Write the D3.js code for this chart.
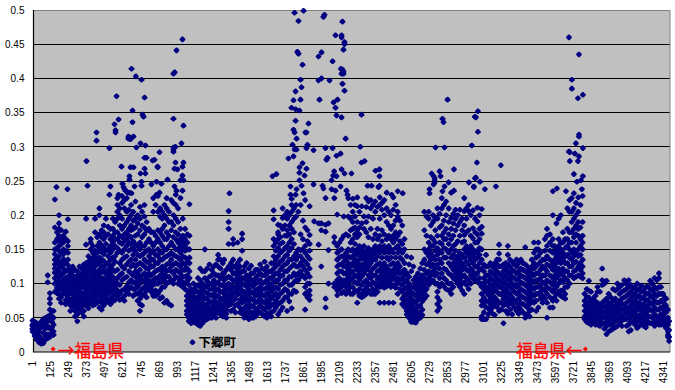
<!DOCTYPE html>
<html>
  <head>
    <meta charset="utf-8" />
    <title>福島県</title>
    <script src="https://d3js.org/d3.v7.min.js"></script>
    <style>
      body { margin: 0; background: #fff; }
      svg { display: block; font-family: "Liberation Sans", Arial, sans-serif; }
      .axis path { display: none; }
      .axis line { display: none; }
      .axis text { fill: #000; font-size: 10px; }
      .grid line { stroke: #000; stroke-width: 1; shape-rendering: crispEdges; }
    </style>
  </head>
  <body>
    <div id="chart-container"></div>
    <script>
      //value axis and category labels
      const yTicks = [0, 0.05, 0.1, 0.15, 0.2, 0.25, 0.3, 0.35, 0.4, 0.45, 0.5];
      const xLabels = [1, 125, 249, 373, 497, 621, 745, 869, 993, 1117, 1241, 1365, 1489, 1613, 1737, 1861, 1985, 2109, 2233, 2357, 2481, 2605, 2729, 2853, 2977, 3101, 3225, 3349, 3473, 3597, 3721, 3845, 3969, 4093, 4217, 4341];

      //scattered high points, [id, value x 1000]
      const highPoints = [
        [1034,457],[993,441],[972,407],[981,409],[683,414],[713,403],[752,398],[580,374],[773,372],[690,353],[759,347],[766,344],[972,341],[594,340],[566,333],[690,336],[1041,331],[442,321],[573,324],[573,321],[442,309],[662,315],[662,312],[676,311],[669,314],[697,315],[745,305],[1027,305],[531,298],[717,299],[779,302],[972,299],[986,300],[972,296],[972,293],[876,292],[373,279],[773,284],[786,284],[828,280],[841,281],[986,277],[1041,277],[1034,271],[862,271],[864,270],[614,271],[676,270],[697,270],[773,268],[979,268],[999,267],[745,261],[779,261],[1034,258],[669,257],[669,252],[752,249],[931,252],[1020,251],[1041,251],[621,246],[752,243],[820,245],[889,246],[855,249],[166,241],[242,238],[380,243],[538,242],[628,241],[704,242],[979,242],[635,238],[642,236],[993,236],[1034,236],[531,230],[594,230],[655,233],[669,233],[683,232],[876,233],[855,230],
        [1868,499],[1806,496],[1833,484],[2012,493],[2005,490],[2136,483],[2088,463],[2130,463],[2130,460],[2150,453],[2150,450],[2143,442],[1826,439],[1833,436],[1992,438],[1971,432],[2068,425],[1861,420],[2125,414],[2136,413],[2143,410],[2130,407],[2143,407],[1847,398],[1971,397],[1992,400],[2047,397],[2136,392],[1854,387],[2150,382],[1813,381],[1799,368],[1847,369],[1978,369],[2102,369],[2075,365],[1785,357],[1813,355],[1840,353],[2088,357],[2095,346],[2130,343],[2267,347],[1813,338],[1902,334],[1799,325],[1806,321],[1881,321],[1888,321],[1820,312],[2158,312],[1792,303],[1895,303],[2259,300],[1806,296],[1820,296],[1888,298],[1937,295],[2019,298],[2068,298],[1799,286],[1764,283],[2123,290],[2095,287],[2033,284],[2026,281],[1861,276],[2267,277],[2288,279],[1840,270],[1888,268],[2130,267],[2364,265],[2391,267],[1840,262],[2079,264],[2150,261],[2198,261],[1654,257],[1681,260],[1875,258],[2072,258],[2095,257],[2391,257],[1840,251],[2061,251],[1778,242],[1854,243],[1937,245],[1999,243],[2005,239],[2123,242],[2309,243],[2336,243],[2391,243],[2384,241],[1820,238],[2061,238],[2088,236],[2164,236],[1358,232],[1778,230],[1813,230],[1868,232],[2171,230],[2441,233],[2475,230],[2517,235],[2551,232],
        [2860,369],[2825,341],[2832,336],[2777,299],[2839,299],[2805,264],[2750,261],[2764,257],[2812,257],[2771,254],[2771,251],[2771,248],[2764,245],[2867,248],[2839,242],[2736,238],[2825,235],[2736,232],
        [3696,460],[3765,435],[3716,398],[3716,385],[3792,376],[3758,371],[3069,352],[3048,344],[3055,343],[3069,322],[3765,318],[3765,315],[3744,305],[3027,302],[3792,298],[3696,293],[3702,292],[3737,290],[3765,286],[3062,277],[3227,273],[3702,279],[3758,279],[2904,267],[3730,260],[3792,257],[3055,255],[3048,254],[3007,248],[3083,249],[3751,249],[3778,251],[3041,242],[3041,241],[3193,242],[3117,238],[3785,238],[3613,239],[3585,235],[3675,235],[2904,236],[2885,233]
      ];

      //low start of the series, [id, values x 1000...]
      const startCluster = [
        [1,46,40,34,30,38],[16,44,36,28,24],[31,42,34,26,22,18],[46,38,30,24,18,14],[61,44,36,20,16,12],[76,48,40,28,16,13],[91,50,42,34,24,18],[106,52,46,38,26,20,112,102],[121,62,54,46,34,22,86,78,71],[136,60,52,44,36,28],[146,60,50,40,30,25]
      ];

      //first hump
      const firstHump = [
        [155,223,182,160,150,143,135,128,122,116,108,100,88],
        [184,200,188,180,170,162,155,148,140,133,126,118,110,104,97,90,84,78],
        [214,170,160,150,143,136,128,122,115,106,98,92,86],
        [245,194,162,155,145,135,127,120,110,103,95,88,80,74],
        [278,125,118,112,105,97,90,84,78,72,66],
        [310,118,112,105,98,92,85,78,72,65,55,45],
        [340,122,115,108,100,94,86,80,74,66,58],
        [370,195,157,130,122,114,106,98,90,82,74,68],
        [402,165,160,150,135,128,120,112,104,96,88,80,72],
        [432,195,175,148,140,132,125,118,110,102,94,86,78,70],
        [462,210,200,172,160,150,138,130,120,110,100,92,85,75,65],
        [492,185,175,165,152,143,133,124,118,108,100,90,84,76,68],
        [522,183,172,150,140,130,120,110,100,92,85,75],
        [555,195,180,170,160,150,138,128,120,110,100,90,82,74],
        [586,225,215,205,195,175,165,152,145,120,108,100,90,82],
        [618,228,218,195,180,168,158,145,135,125,115,105,90,78],
        [650,225,205,190,175,165,155,140,128,110,96,88],
        [680,215,200,185,178,168,158,150,135,125,115,105,95],
        [710,220,195,182,170,158,148,135,125,118,110,100,92,85],
        [741,212,195,178,160,150,140,130,120,110,100,88,78,70,60],
        [772,215,198,182,172,155,145,135,125,115,105,95,85],
        [803,180,178,165,150,140,130,122,115,105,96,92],
        [833,225,205,175,155,148,135,125,115,105,98,85,82],
        [865,228,205,178,165,150,140,130,120,108,100,85],
        [895,205,195,180,170,155,145,135,125,118,108,95,80],
        [925,225,210,195,175,165,150,140,128,118,110,100,75],
        [957,222,190,178,160,145,135,125,118,105,68],
        [988,230,215,195,175,165,150,140,130,120,110],
        [1020,225,180,165,155,145,135,125,115,105,98],
        [1052,180,165,155,148,138,128,120,110,100,92],
        [1082,216,170,150,138,130,118,108]
      ];
      const firstHumpInfill = [
        [170,175,165,152,138,130,120,112,102,94,86],
        [199,178,166,158,146,130,124,112,100,92,80,72],
        [230,176,165,148,132,118,108,100,92,84,76,70],
        [262,122,115,108,100,92,86,76,68,60],
        [294,120,108,102,95,88,82,74,68,60,52],
        [325,125,110,103,96,88,82,76,70,62],
        [355,128,118,110,104,95,86,78,70,60,52],
        [386,140,132,125,118,110,102,94,86,78,70,64],
        [417,155,145,138,130,122,114,106,98,90,82,76,68],
        [447,168,155,145,135,128,115,105,98,90,82,72],
        [477,178,168,156,146,136,126,116,105,96,88,80,72,62],
        [507,195,170,158,148,128,115,105,96,88,80,72],
        [538,180,165,155,145,135,125,115,105,95,88,78,70],
        [570,190,175,165,155,140,132,118,105,95,85,76],
        [602,210,200,185,170,160,148,130,112,98,85,76],
        [634,222,210,185,172,162,150,138,122,108,92,82,75],
        [665,208,195,180,170,160,148,132,118,102,92,85],
        [695,205,192,180,162,152,142,128,112,102,92,82],
        [725,200,188,172,155,142,128,115,105,95,85,75],
        [756,205,185,168,155,142,128,112,104,92,82,68],
        [787,190,178,160,148,132,122,110,100,90,80],
        [818,175,160,145,135,125,112,100,92,88],
        [849,215,170,160,142,130,118,108,100,90,82],
        [880,210,198,175,160,145,135,122,112,102,90,78],
        [910,215,200,185,165,150,138,122,112,104,95,72],
        [941,205,190,170,155,142,130,120,110,102,70],
        [972,218,200,185,168,155,142,128,115,105,100],
        [1004,210,190,172,160,150,138,128,118,108,100],
        [1036,195,170,160,150,140,130,120,110,102,95],
        [1068,172,160,150,132,122,112,104]
      ];

      //band around 下郷町
      const shimogoBand = [
        [1064,90,82,75,68,60,55],[1094,92,85,78,70,62,55,48,42],[1126,95,88,78,68,60,52,45,42],[1156,122,105,95,85,78,68,60,50,42,38],[1188,150,118,108,95,88,78,68,60,52,46],[1220,128,110,100,92,84,74,65,58,50],[1250,125,115,105,95,85,75,68,60,52],[1280,142,135,125,112,102,92,82,72,65,58],[1312,130,115,108,98,88,78,68,60,52],
        [1321,135,115,105,95,85,75,65,55],[1352,206,190,180,158,125,110,100,92,84,76,68],[1383,165,158,135,125,115,105,95,85,75,62],[1414,160,130,120,110,100,92,84,70],[1445,173,165,148,118,108,100,90,80,72,60,56],[1476,130,112,104,96,88,78,68,58,52],[1507,126,115,106,98,88,78,68,58,50],[1538,120,108,100,90,82,72,60,52],[1569,128,115,105,95,88,78,68,58],[1600,132,120,112,102,92,82,72,62,52],[1631,118,108,100,92,82,72,65,57]
      ];
      const shimogoInfill = [
        [1078,98,88,80,72,64,58,50,45],[1110,100,90,82,74,66,58,50,44],[1141,108,98,88,80,72,64,56,48,40],[1172,118,100,90,82,72,64,56,48,42],[1204,122,104,96,86,78,70,62,54,48],[1235,120,112,100,92,82,72,64,56,50],[1265,128,112,100,90,80,72,64,56,50],[1296,135,122,108,98,88,78,70,62,55],[1336,120,108,98,90,80,72,62,56,50],[1368,130,120,108,98,90,80,70,60],[1398,125,115,105,95,88,78,68,58],[1430,135,125,115,105,95,86,76,65,58],[1460,125,118,108,98,88,82,74,64,56,50],[1491,122,110,100,92,84,74,64,56,48],[1522,115,104,96,86,76,66,56,50],[1553,120,112,102,92,84,74,64,56],[1584,122,112,100,92,84,74,65,55],[1616,125,115,105,95,86,76,66,56,50],[1646,130,118,108,96,88,78,68,58,52]
      ];

      //second hump
      const secondHump = [
        [1662,207,194,165,155,140,130,122,112,102,92,82,70,60],
        [1693,186,175,172,165,152,140,128,115,105,92,80,70,55],
        [1724,210,196,180,160,148,135,125,112,100,88,75,65],
        [1755,205,195,178,170,155,142,130,118,105,90,80,60],
        [1786,224,215,205,190,180,165,152,135,125,110,98,85,64],
        [1817,215,198,145,135,125,112,105,88],
        [1848,215,172,149,140,130,118,110],
        [1879,222,182,155,145,132,120,108,95,85,62],
        [1910,213,171,158,148,136,122,110,100,90,83,76],
        [1941,191],[1972,157,188],[1990,188,178,125],[2020,225,186,176,78,65],[2040,188,149,100],
        [2080,225,168,160,100,95],
        [2100,201,155,145,135,125,115,105,98,90,83],
        [2145,198,170,140,132,125,115,105,98,88],
        [2176,225,198,170,150,140,130,120,110,100,90],
        [2207,224,205,190,180,165,150,140,130,118,108,95,85],
        [2238,226,213,190,178,168,150,142,130,120,110,100,88,72],
        [2269,213,188,150,140,128,120,110,98,85,80],
        [2300,225,212,190,175,148,140,130,120,105,95,85],
        [2331,222,210,180,148,140,130,118,108,98,85],
        [2362,220,205,172,155,145,135,125,112,100,90,85],
        [2393,226,215,195,170,155,145,130,120,110,100,95,72],
        [2424,222,200,172,155,145,130,120,110,100,94,72],
        [2455,205,185,170,155,145,135,120,110,100,72],
        [2486,226,208,185,170,160,145,130,120,110,98,72],
        [2517,205,198,170,155,145,130,120,108,100,85],
        [2548,185,158,145,135,118,108,98,88,78,70],
        [2579,140,115,105,95,85,76,68,60,55],
        [2610,138,118,95,88,78,70,62,55,46,44],
        [2641,110,100,92,82,72,62,52,46,43],
        [2672,122,108,100,90,80,68,58,50]
      ];
      const secondHumpInfill = [
        [1677,160,148,135,125,115,105,95,85,75,65],
        [1708,185,168,158,145,132,120,110,98,85,72,60],
        [1740,200,185,170,152,140,128,118,105,92,80],
        [1770,200,185,172,160,148,135,122,110,98,85,74],
        [1802,210,195,175,158,140,128,115,102,90],
        [1832,205,150,140,125,115,105],
        [1864,192,165,150,135,125,112],
        [1895,178,162,140,128,115,100,88,80],
        [2115,160,148,138,128,118,108,100,92],
        [2130,165,150,140,128,118,104,95,86],
        [2160,172,145,135,125,115,105,95,85],
        [2192,215,195,178,160,148,138,125,115,105,95,85],
        [2222,215,198,182,172,158,145,135,125,112,102,90],
        [2253,205,182,172,155,145,135,125,115,105,92,82],
        [2284,198,180,155,145,135,125,115,102,90,82],
        [2315,220,198,168,152,143,135,125,112,100,90],
        [2346,215,195,165,150,142,135,122,112,102,92,85],
        [2377,212,180,165,150,140,128,118,106,95,88],
        [2408,218,208,178,162,150,138,125,115,105,96],
        [2440,210,190,165,150,138,125,115,105,96],
        [2470,200,180,165,150,138,128,115,105,95],
        [2502,215,192,175,165,152,138,125,115,105,94],
        [2532,192,175,162,150,138,125,115,105,92],
        [2563,165,150,130,120,112,102,92,82,74,66],
        [2595,128,110,100,90,82,72,64,56,50],
        [2625,125,105,95,85,75,66,58,50,44],
        [2656,115,105,96,86,76,66,56,48],
        [2686,130,112,104,94,84,74,62,54]
      ];

      //third hump
      const thirdHump = [
        [2700,205,178,150,135,120,108,98,88,78],
        [2730,205,195,160,150,140,130,118,108,98],
        [2760,200,190,165,155,140,128,118,105],
        [2790,210,195,170,152,142,128,115,100,88,80,70,60],
        [2820,225,210,185,170,158,145,130,115,100],
        [2850,220,200,180,165,150,138,120,105,92],
        [2885,196,180,165,150,138,125,112,100,92,85],
        [2915,208,195,178,158,148,135,125,115,105],
        [2945,208,190,170,145,135,125,115,105,95],
        [2975,225,206,185,171,162,150,138,125,112,102,85],
        [3005,215,206,178,150,140,128,118,105,92],
        [3035,207,181,166,150,140,130,118,108],
        [3065,211,191,172,160,148,138,125,115,105],
        [3095,209,183,173,150,135,122,100,95,85,75,68,52,48],
        [3125,142,125,112,103,95,88,75,65,48],
        [3155,130,118,108,98,90,80,70,60],
        [3185,130,122,112,102,92,80,70,54],
        [3215,157,144,135,125,115,105,95,85,72,60],
        [3245,128,118,108,98,88,78,68,42],
        [3275,155,142,128,118,108,98,88,78,68,56],
        [3305,132,120,110,100,92,80,70,55],
        [3335,135,125,115,105,95,85,72,60],
        [3365,135,122,112,102,92,82,72,62],
        [3395,153,128,118,108,98,88,78,68,55,50],
        [3425,120,110,100,90,80,70,60,52],
        [3455,160,145,130,122,112,102,92,82,72],
        [3485,160,150,140,128,115,105,95,85,65],
        [3515,135,125,112,102,92,82,72],
        [3545,180,170,155,140,128,118,105,95,85,72,50],
        [3585,200,165,155,145,130,120,108,98,88,75,65],
        [3610,188,150,140,130,118,108,95,85,75],
        [3640,200,160,150,140,130,118,105,90,82],
        [3670,165,152,140,130,118,108,95,85,78],
        [3700,222,205,175,160,150,138,125,112,100],
        [3730,232,210,195,180,168,150,140,130,118,108],
        [3760,226,205,190,180,170,150,140,125,112],
        [3790,228,190,170,160,150,135,125,115,108]
      ];
      const thirdHumpInfill = [
        [2715,198,170,145,128,115,104,92,82],
        [2745,185,168,155,145,135,125,112,102],
        [2775,195,178,160,148,135,122,112,100],
        [2805,202,182,160,148,135,122,108,95,75,65],
        [2835,215,192,175,165,152,138,122,108,96],
        [2868,210,190,172,158,145,130,115,100,90],
        [2900,202,188,170,155,142,130,120,108,95],
        [2930,200,185,162,140,130,120,110,100],
        [2960,195,178,160,142,130,120,110,100,90],
        [2990,210,195,175,155,145,132,120,108,98],
        [3020,200,170,155,145,135,122,112,100],
        [3050,195,175,160,145,135,125,112,104],
        [3080,200,180,165,152,142,130,120,108,100],
        [3110,128,118,108,100,92,80,70,58,48],
        [3140,125,112,103,94,84,74,64,55],
        [3170,125,115,105,96,86,75,65,56],
        [3200,135,128,118,108,98,88,76,66],
        [3230,125,112,102,94,84,72,62],
        [3260,130,122,112,102,92,82,72,60],
        [3290,135,125,115,105,95,85,74,62],
        [3320,128,118,108,98,88,76,65],
        [3350,130,118,108,98,88,78,66,56],
        [3380,130,120,110,100,90,80,70,58],
        [3410,125,115,105,95,85,75,65,55],
        [3440,135,125,115,105,95,85,75,62],
        [3470,150,138,125,115,105,95,85,75,60],
        [3500,145,132,120,108,98,88,78],
        [3530,165,148,135,122,112,100,90,78],
        [3565,172,160,148,135,125,112,102,92,80,65],
        [3597,155,145,135,125,112,102,92,80],
        [3625,195,165,155,145,135,122,112,100,88],
        [3655,175,160,145,135,122,112,102,90,80],
        [3685,210,180,165,155,142,130,118,105,95],
        [3715,225,205,190,175,160,145,135,125,112],
        [3745,218,200,185,172,160,145,132,120,110],
        [3775,215,182,165,155,142,130,120,110]
      ];

      //low band at the end of the series
      const tailBand = [
        [3804,85,75,68,60,52,48],[3833,104,90,80,72,65,58,50,42],[3863,78,70,62,55,48,43],[3893,95,88,72,62,55,48,40],[3925,122,105,98,72,65,58,50,42],[3955,104,78,68,60,52,44,38,26],[3985,80,70,62,55,48,40,32],[4015,90,78,68,60,52,45,36],[4045,95,85,75,68,60,50,42],[4077,105,90,80,70,62,55,48],[4107,105,95,85,75,65,58,50,40,30],[4136,92,82,72,62,55,45],[4166,100,90,80,70,62,52,45,35],[4196,97,88,78,68,60,50,42],[4226,95,85,75,65,58,50,40,36],[4256,104,92,82,72,62,52,42],[4286,108,95,85,75,65,55,45,38],[4316,115,108,95,85,72,62,52,48,40],[4345,85,75,65,55,48,42],[4365,78,68,58,48,42,35],[4378,62,50,40,30,25,22],[4386,45,32,22,16]
      ];
      const tailInfill = [
        [3818,92,80,72,64,56,50,44],[3848,88,75,66,58,52,46,40],[3878,82,74,66,58,52,46,40],[3909,88,68,60,52,46,38],[3940,100,75,66,58,50,42,34],[3970,85,72,64,56,48,40,30],[4000,92,75,66,58,50,42,34],[4030,100,92,72,64,56,48,38],[4061,98,88,78,70,62,54,46,38],[4092,100,92,82,72,64,56,48,38],[4122,98,88,78,68,60,52,44,32],[4151,95,85,75,66,58,48,40],[4181,92,82,72,64,54,46,38],[4211,90,80,70,62,54,46,38],[4241,96,86,76,68,60,52,44],[4271,100,90,80,70,60,50,42],[4301,105,92,82,72,62,52,44],[4330,95,85,75,65,55,48,40],[4355,80,70,60,50,44,38]
      ];

      //the two labelled regions and the marked town
      const fukushimaMarks = [[143,0.0044],[3809,0.0044]];
      const townMark = [[1103,0.0142]];

      const width = 675;
      const height = 390;
      const margin = { top: 10, right: 5, bottom: 38, left: 33.5 };
      const plotW = width - margin.left - margin.right;
      const plotH = height - margin.top - margin.bottom;

      //set up the scales
      const xScale = d3.scaleLinear().domain([8, 4392]).range([0, plotW]);
      const yScale = d3.scaleLinear().domain([0, 0.5]).range([plotH, 0]);

      const svg = d3
        .select("#chart-container")
        .append("svg")
        .attr("width", width)
        .attr("height", height)
        .append("g")
        .attr("transform", `translate(${margin.left},${margin.top})`);

      svg.append("rect").attr("width", plotW).attr("height", plotH).attr("fill", "#c0c0c0");

      //horizontal grid lines
      svg
        .append("g")
        .attr("class", "grid")
        .selectAll("line")
        .data(yTicks.slice(1, -1))
        .join("line")
        .attr("x1", 0)
        .attr("x2", plotW)
        .attr("y1", (d) => yScale(d))
        .attr("y2", (d) => yScale(d));

      //plot frame, grey on top and right, black on the axes
      svg.append("path").attr("d", `M0,0.5H${plotW}V${plotH}`).attr("fill", "none").attr("stroke", "#808080");
      svg.append("path").attr("d", `M0,0V${plotH}H${plotW}`).attr("fill", "none").attr("stroke", "#000").attr("stroke-width", 1.2);

      //axes
      svg
        .append("g")
        .attr("class", "axis")
        .call(d3.axisLeft(yScale).tickValues(yTicks).tickFormat((d) => String(d)).tickPadding(0).tickSize(9));

      svg
        .append("g")
        .attr("class", "axis")
        .attr("transform", `translate(0,${plotH})`)
        .call(d3.axisBottom(xScale).tickValues(xLabels).tickFormat((d) => String(d)).tickSize(0))
        .selectAll("text")
        .attr("transform", "rotate(-90)")
        .attr("text-anchor", "end")
        .attr("x", -9)
        .attr("y", 0)
        .attr("dy", "0.35em");

      //flatten the column rows into points
      const columns = [...startCluster, ...firstHump, ...firstHumpInfill, ...shimogoBand, ...shimogoInfill, ...secondHump, ...secondHumpInfill, ...thirdHump, ...thirdHumpInfill, ...tailBand, ...tailInfill];
      const points = highPoints.map(([id, v]) => ({ id, value: v / 1000 }));
      columns.forEach(([id, ...values]) => values.forEach((v) => points.push({ id, value: v / 1000 })));

      //excel style marker, a diamond with its tips cut
      const marker = {
        draw(context) {
          context.moveTo(-0.6, -2.8);
          context.lineTo(0.6, -2.8);
          context.lineTo(2.8, -0.6);
          context.lineTo(2.8, 0.6);
          context.lineTo(0.6, 2.8);
          context.lineTo(-0.6, 2.8);
          context.lineTo(-2.8, 0.6);
          context.lineTo(-2.8, -0.6);
          context.closePath();
        },
      };
      const diamond = d3.symbol().type(marker);

      svg
        .selectAll(".dot")
        .data(points)
        .join("path")
        .attr("class", "dot")
        .attr("d", diamond)
        .attr("fill", "#000080")
        .attr("transform", (d) => `translate(${xScale(d.id)},${yScale(d.value)})`);

      //annotation marks
      svg
        .selectAll(".mark")
        .data(fukushimaMarks)
        .join("path")
        .attr("class", "mark")
        .attr("d", d3.symbol().type(d3.symbolDiamond2).size(16))
        .attr("fill", "#ff0000")
        .attr("transform", (d) => `translate(${xScale(d[0])},${yScale(d[1])})`);

      svg
        .selectAll(".town")
        .data(townMark)
        .join("path")
        .attr("class", "town")
        .attr("d", diamond)
        .attr("fill", "#000080")
        .attr("transform", (d) => `translate(${xScale(d[0])},${yScale(d[1])})`);

      svg
        .append("text")
        .attr("x", xScale(townMark[0][0]) + 6)
        .attr("y", yScale(townMark[0][1]) + 5)
        .attr("font-family", "'Noto Sans CJK JP'")
        .attr("font-size", 12.5)
        .attr("font-weight", "bold")
        .attr("fill", "#000")
        .text("下郷町");

      const redFont = "'Noto Sans CJK JP'";
      svg
        .append("text")
        .attr("x", xScale(fukushimaMarks[0][0]) + 5)
        .attr("y", plotH + 5)
        .attr("font-family", redFont)
        .attr("font-size", 16.5)
        .attr("stroke", "#ff0000")
        .attr("stroke-width", 0.3)
        .attr("fill", "#ff0000")
        .text("→福島県");

      svg
        .append("text")
        .attr("x", xScale(fukushimaMarks[1][0]) - 3)
        .attr("y", plotH + 5)
        .attr("text-anchor", "end")
        .attr("font-family", redFont)
        .attr("font-size", 16.5)
        .attr("stroke", "#ff0000")
        .attr("stroke-width", 0.3)
        .attr("fill", "#ff0000")
        .text("福島県←");
    </script>
  </body>
</html>
